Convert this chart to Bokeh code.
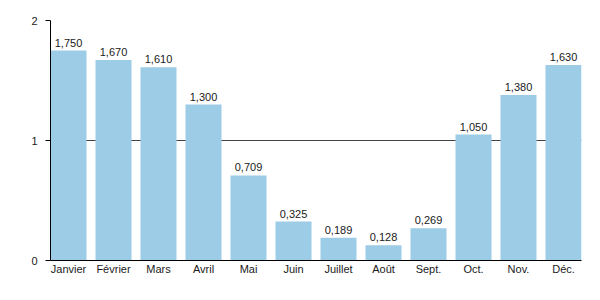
from bokeh.plotting import figure
from bokeh.models import ColumnDataSource, FixedTicker, LabelSet, Range1d
from bokeh.core.properties import value
from bokeh.embed import file_html
from bokeh.resources import INLINE

months = ["Janvier", "Février", "Mars", "Avril", "Mai", "Juin", "Juillet",
          "Août", "Sept.", "Oct.", "Nov.", "Déc."]
values = [1.750, 1.670, 1.610, 1.300, 0.709, 0.325, 0.189, 0.128, 0.269, 1.050, 1.380, 1.630]
labels = ["1,750", "1,670", "1,610", "1,300", "0,709", "0,325", "0,189", "0,128",
          "0,269", "1,050", "1,380", "1,630"]
y_ticks = [0, 1, 2]

xpos = [i + 0.5 for i in range(len(months))]
src = ColumnDataSource(dict(x=xpos, v=values, lab=labels))

p = figure(x_range=Range1d(0.1, len(months) - 0.1), y_range=Range1d(0, 2),
           width=600, height=300, output_backend="svg", toolbar_location=None,
           min_border_left=50, min_border_right=19, min_border_top=20, min_border_bottom=40)
p.outline_line_color = None
p.background_fill_color = "white"
p.border_fill_color = "white"

p.vbar(x="x", top="v", width=0.8, source=src, fill_color="#9ccce6", line_color=None)

p.add_layout(LabelSet(x="x", y="v", text="lab", source=src, text_align="center",
                      text_baseline="bottom", y_offset=4, text_font_size=value("11px"),
                      text_font=value("Liberation Sans"), text_color="#1a1a1a"))

p.xgrid.grid_line_color = None
p.ygrid.ticker = FixedTicker(ticks=y_ticks)
p.ygrid.grid_line_color = "#444444"
p.ygrid.grid_line_width = 1

p.yaxis.ticker = FixedTicker(ticks=y_ticks)
p.yaxis.major_tick_out = 5
p.yaxis.major_tick_in = 0
p.yaxis.minor_tick_line_color = None
p.yaxis.axis_line_color = "black"
p.yaxis.major_tick_line_color = "black"
p.yaxis.major_label_text_font = "Liberation Sans"
p.yaxis.major_label_text_font_size = "11px"
p.yaxis.major_label_text_color = "#1a1a1a"
p.yaxis.major_label_standoff = 8

p.xaxis.ticker = FixedTicker(ticks=xpos)
p.xaxis.major_label_overrides = {x: m for x, m in zip(xpos, months)}
p.xaxis.major_tick_line_color = None
p.xaxis.major_tick_out = 0
p.xaxis.major_tick_in = 0
p.xaxis.minor_tick_line_color = None
p.xaxis.axis_line_color = "black"
p.xaxis.major_label_text_font = "Liberation Sans"
p.xaxis.major_label_text_font_size = "11px"
p.xaxis.major_label_text_color = "#1a1a1a"
p.xaxis.major_label_standoff = 2

open("out.html", "w").write(file_html(p, INLINE))
